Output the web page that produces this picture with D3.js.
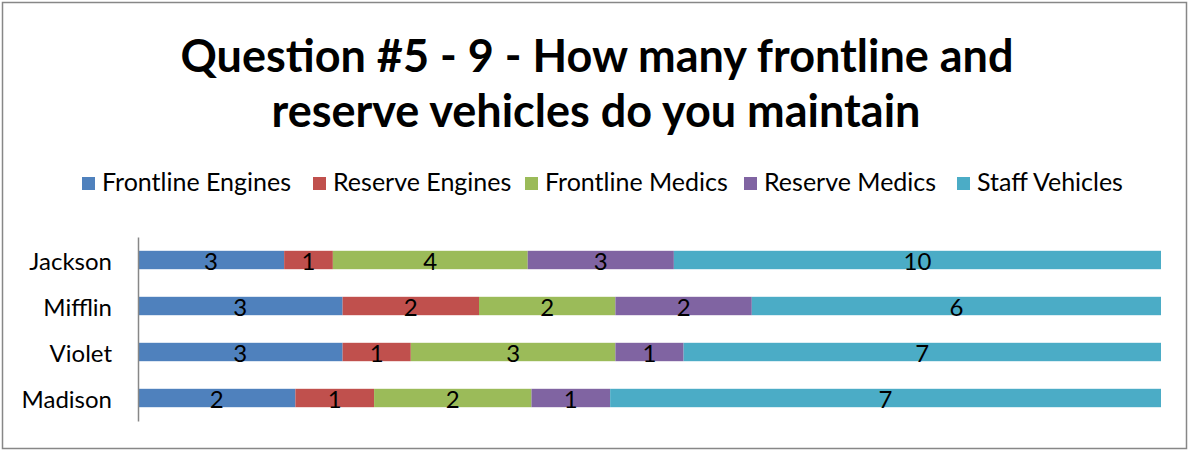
<!DOCTYPE html>
<html lang="en">
<head>
<meta charset="UTF-8">
<title>Question #5 - 9</title>
<script src="https://cdn.jsdelivr.net/npm/d3@7"></script>
<style>
  body { margin: 0; background: #fff; }
  text { font-family: Lato, "Open Sans", sans-serif; }
</style>
</head>
<body>
<script>
    // data
    var cities = ["Jackson", "Mifflin", "Violet", "Madison"];
    var seriesNames = ["Frontline Engines", "Reserve Engines", "Frontline Medics", "Reserve Medics", "Staff Vehicles"];
    var frontlineEngines = [3, 3, 3, 2];
    var reserveEngines   = [1, 2, 1, 1];
    var frontlineMedics  = [4, 2, 3, 2];
    var reserveMedics    = [3, 2, 1, 1];
    var staffVehicles    = [10, 6, 7, 7];
    var colors = ["#4F81BD", "#C0504D", "#9BBB59", "#8064A2", "#4BACC6"];

    var width = 1190, height = 451;

    var svg = d3.select("body").append("svg")
        .attr("width", width)
        .attr("height", height);

    // chart border
    svg.append("rect")
        .attr("x", 2.5).attr("y", 2.5)
        .attr("width", 1184).attr("height", 446)
        .attr("fill", "#fff")
        .attr("stroke", "#878787")
        .attr("stroke-width", 1.5);

    // title
    var title = svg.append("text")
        .attr("text-anchor", "middle")
        .attr("font-size", 45)
        .attr("font-weight", "bold")
        .attr("fill", "#000");
    title.append("tspan").attr("x", 597).attr("y", 72).text("Question #5 - 9 - How many frontline and");
    title.append("tspan").attr("x", 596).attr("y", 127).text("reserve vehicles do you maintain");

    // build rows for stacking
    var allSeries = [frontlineEngines, reserveEngines, frontlineMedics, reserveMedics, staffVehicles];
    var rows = cities.map(function (c, i) {
        var r = {city: c};
        seriesNames.forEach(function (s, j) { r[s] = allSeries[j][i]; });
        return r;
    });

    var stack = d3.stack().keys(seriesNames).offset(d3.stackOffsetExpand);
    var layers = stack(rows);

    var x = d3.scaleLinear().domain([0, 1]).range([138, 1161]);
    var y = d3.scaleBand().domain(cities).range([237, 421]).paddingInner(0.6).paddingOuter(0.3);

    var g = svg.selectAll("g.layer")
        .data(layers)
        .enter()
        .append("g")
        .attr("class", "layer")
        .attr("fill", function (d, i) { return colors[i]; });

    g.selectAll("rect")
        .data(function (d) { return d; })
        .enter()
        .append("rect")
        .attr("x", function (d) { return x(d[0]); })
        .attr("y", function (d) { return y(d.data.city); })
        .attr("width", function (d) { return x(d[1]) - x(d[0]); })
        .attr("height", y.bandwidth());

    // value labels
    g.selectAll("text")
        .data(function (d) { return d.map(function (p) { p.key = d.key; return p; }); })
        .enter()
        .append("text")
        .attr("x", function (d) { return (x(d[0]) + x(d[1])) / 2; })
        .attr("y", function (d) { return y(d.data.city) + y.bandwidth() / 2 + 10; })
        .attr("text-anchor", "middle")
        .attr("font-size", 24)
        .attr("fill", "#000")
        .text(function (d) { return d.data[d.key]; });

    // category axis
    var yAxis = d3.axisLeft(y).tickSize(0).tickPadding(26);
    var ya = svg.append("g").attr("transform", "translate(138,0)").call(yAxis);
    ya.select(".domain").attr("stroke", "#878787").attr("stroke-width", 1.5);
    ya.selectAll("text").attr("font-size", 24).attr("fill", "#000").attr("dy", "0.4em")
        .style("font-family", "Lato, 'Open Sans', sans-serif");

    // legend
    var legendX = [82, 313, 525, 744, 957];
    var lg = svg.selectAll("g.legend")
        .data(seriesNames)
        .enter()
        .append("g")
        .attr("class", "legend")
        .attr("transform", function (d, i) { return "translate(" + legendX[i] + ",177)"; });
    lg.append("rect").attr("width", 13).attr("height", 13)
        .attr("fill", function (d, i) { return colors[i]; });
    lg.append("text").attr("x", 20).attr("y", 14)
        .attr("font-size", 25).attr("fill", "#000")
        .text(function (d) { return d; });
</script>
</body>
</html>
